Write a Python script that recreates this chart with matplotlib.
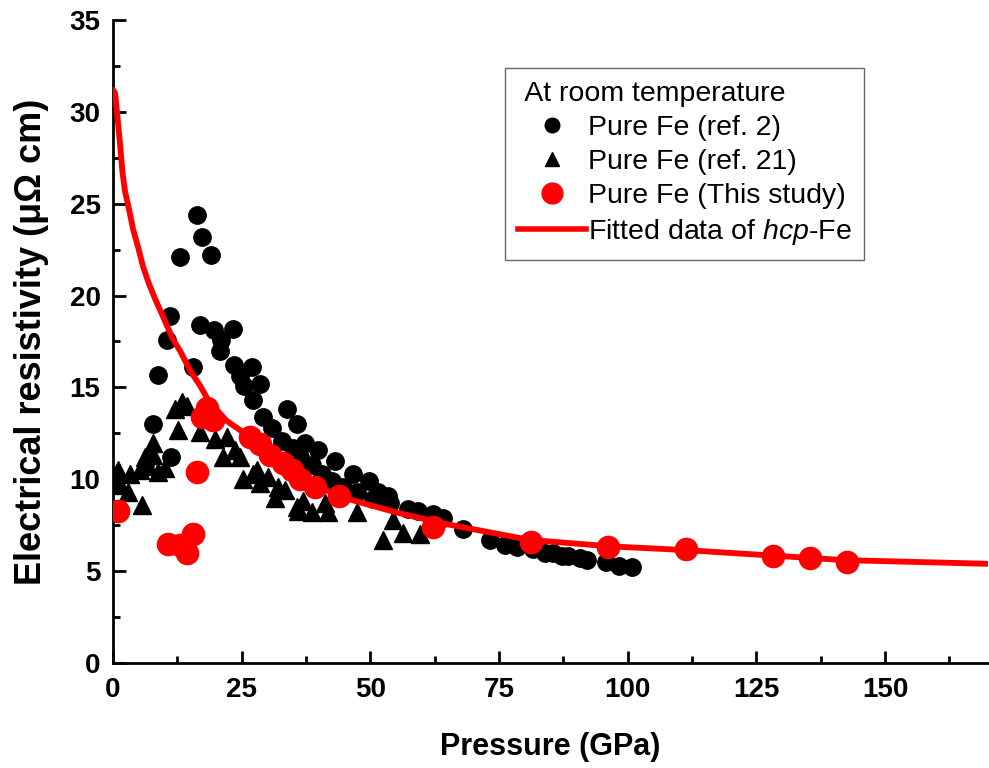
import matplotlib
matplotlib.use("Agg")
import matplotlib.pyplot as plt
from matplotlib.lines import Line2D

plt.rcParams['font.family'] = ['Liberation Sans', 'DejaVu Sans']
plt.rcParams['mathtext.fontset'] = 'custom'
plt.rcParams['mathtext.rm'] = 'Liberation Sans'
plt.rcParams['mathtext.it'] = 'Liberation Sans:italic'

# Pure Fe (ref. 2)
ref2_p = [7.8, 8.7, 10.5, 11.1, 11.3, 13.0, 15.5, 16.3, 17.3, 16.9, 19.0, 19.6, 20.8, 21.0,
          23.3, 23.5, 24.7, 27.0, 25.5, 27.2, 28.6, 29.1, 33.8, 30.9, 35.7, 32.8, 37.3, 35.0,
          39.8, 36.3, 43.1, 38.7, 40.6, 46.6, 42.5, 49.7, 44.7, 47.4, 51.5, 53.4, 50.5, 53.8,
          57.3, 59.3, 62.2, 64.1, 68.0, 73.2, 76.2, 78.5, 81.6, 83.9, 85.5, 87.2, 88.4, 90.7,
          92.1, 95.8, 98.3, 100.8]
ref2_r = [13.0, 15.7, 17.6, 18.9, 11.2, 22.1, 16.1, 24.4, 23.2, 18.4, 22.2, 18.1, 17.0, 17.6,
          18.2, 16.2, 15.6, 16.1, 15.1, 14.3, 15.2, 13.4, 13.8, 12.8, 13.0, 12.1, 12.0, 11.7,
          11.6, 11.2, 11.0, 10.8, 10.3, 10.3, 9.9, 9.9, 9.6, 9.3, 9.3, 9.1, 8.9, 8.7,
          8.4, 8.3, 8.1, 7.9, 7.3, 6.7, 6.4, 6.3, 6.2, 6.0, 6.0, 5.8, 5.8, 5.7,
          5.6, 5.5, 5.3, 5.2]

# Pure Fe (ref. 21)
ref21_p = [0.6, 1.0, 1.4, 2.9, 3.3, 5.2, 5.6, 6.2, 6.8, 7.8, 7.8, 8.7, 10.1, 12.0, 13.4, 14.4,
           12.6, 16.9, 19.8, 22.1, 21.4, 23.7, 24.7, 25.3, 27.2, 28.0, 28.6, 30.1, 32.1, 33.4,
           31.5, 35.7, 36.9, 35.9, 38.7, 41.2, 41.8, 47.4, 52.5, 54.4, 56.3, 59.6]
ref21_r = [10.0, 10.5, 9.7, 9.3, 10.3, 10.5, 8.6, 11.2, 10.7, 11.3, 12.0, 10.4, 10.6, 13.8, 14.2, 14.0,
           12.7, 12.6, 12.2, 12.3, 11.2, 11.6, 11.2, 10.0, 10.3, 10.5, 9.8, 10.1, 9.6, 9.4,
           9.0, 8.5, 8.8, 8.3, 8.2, 8.7, 8.2, 8.2, 6.7, 7.8, 7.1, 7.0]

# Pure Fe (This study)
this_p = [1.0, 10.7, 13.0, 14.4, 15.5, 16.3, 18.3, 17.3, 19.4, 26.6, 28.6, 30.5, 33.0, 34.8,
          36.3, 39.2, 43.9, 62.2, 81.2, 96.2, 111.3, 128.2, 135.4, 142.6]
this_r = [8.3, 6.5, 6.4, 6.0, 7.0, 10.4, 13.9, 13.4, 13.2, 12.3, 11.9, 11.3, 10.9, 10.5,
          10.0, 9.6, 9.1, 7.4, 6.6, 6.3, 6.2, 5.8, 5.7, 5.5]

# Fitted data of hcp-Fe
fit_p = [0.0, 0.4, 0.9, 1.4, 1.8, 2.3, 3.1, 3.9, 4.9, 5.8, 6.9, 8.2, 9.8, 11.5, 13.2, 15.0,
         16.9, 18.5, 22.0, 26.6, 33.0, 39.6, 46.0, 55.0, 64.0, 81.0, 96.6, 111.0, 128.0,
         142.0, 170.0]
fit_r = [31.2, 31.0, 29.6, 28.1, 26.8, 25.7, 24.7, 23.6, 22.6, 21.6, 20.7, 19.8, 18.8, 17.7,
         16.9, 15.9, 15.1, 14.3, 13.2, 12.3, 10.9, 9.6, 8.9, 8.2, 7.6, 6.7, 6.35, 6.15, 5.85,
         5.6, 5.4]

fig = plt.figure(figsize=(9.89, 7.68), dpi=100)
ax = fig.add_axes([0.1143, 0.1367, 0.8847, 0.8373])

ax.plot(ref2_p, ref2_r, 'o', color='black', markersize=12.5, zorder=2, linestyle='none')
ax.plot(ref21_p, ref21_r, '^', color='black', markersize=12.5, zorder=2, linestyle='none')
ax.plot(fit_p, fit_r, '-', color='#ff0000', linewidth=4.2, zorder=3,
        solid_capstyle='round', solid_joinstyle='round')
ax.plot(this_p, this_r, 'o', color='#ff0000', markersize=16, zorder=4, linestyle='none')

ax.set_xlim(0, 170)
ax.set_ylim(0, 35)
ax.set_xticks([0, 25, 50, 75, 100, 125, 150])
ax.set_yticks([0, 5, 10, 15, 20, 25, 30, 35])
ax.set_xticks([12.5, 37.5, 62.5, 87.5, 112.5, 137.5, 162.5], minor=True)
ax.set_yticks([2.5, 7.5, 12.5, 17.5, 22.5, 27.5, 32.5], minor=True)
ax.tick_params(which='major', direction='in', length=9, width=2, labelsize=20)
ax.tick_params(axis='x', which='major', pad=10)
ax.tick_params(axis='y', which='major', pad=9)
ax.tick_params(which='minor', direction='in', length=5, width=2)
for lab in ax.get_xticklabels() + ax.get_yticklabels():
    lab.set_fontweight('bold')

for s in ['top', 'right']:
    ax.spines[s].set_visible(False)
for s in ['left', 'bottom']:
    ax.spines[s].set_linewidth(2)

ax.set_xlabel('Pressure (GPa)', fontsize=22, fontweight='bold', labelpad=21)
ax.set_ylabel('Electrical resistivity (μΩ cm)', fontsize=26, fontweight='bold', labelpad=15)

handles = [
    Line2D([], [], marker='o', color='black', linestyle='none', markersize=10.5),
    Line2D([], [], marker='^', color='black', linestyle='none', markersize=10.5),
    Line2D([], [], marker='o', color='#ff0000', linestyle='none', markersize=15),
    Line2D([], [], color='#ff0000', linewidth=4),
]
labels = ['Pure Fe (ref. 2)', 'Pure Fe (ref. 21)', 'Pure Fe (This study)',
          'Fitted data of $\\mathit{hcp}$-Fe']
leg = ax.legend(handles, labels, title=' At room temperature', loc='upper left',
                bbox_to_anchor=(0.448, 0.925), fontsize=20.5, title_fontsize=20.5,
                frameon=True, fancybox=False, edgecolor='#444444', handlelength=2.4,
                handletextpad=0.05, labelspacing=0.28, borderpad=0.45, borderaxespad=0,
                alignment='left')
leg.get_frame().set_linewidth(1.0)

fig.savefig('out.png', dpi=100)
